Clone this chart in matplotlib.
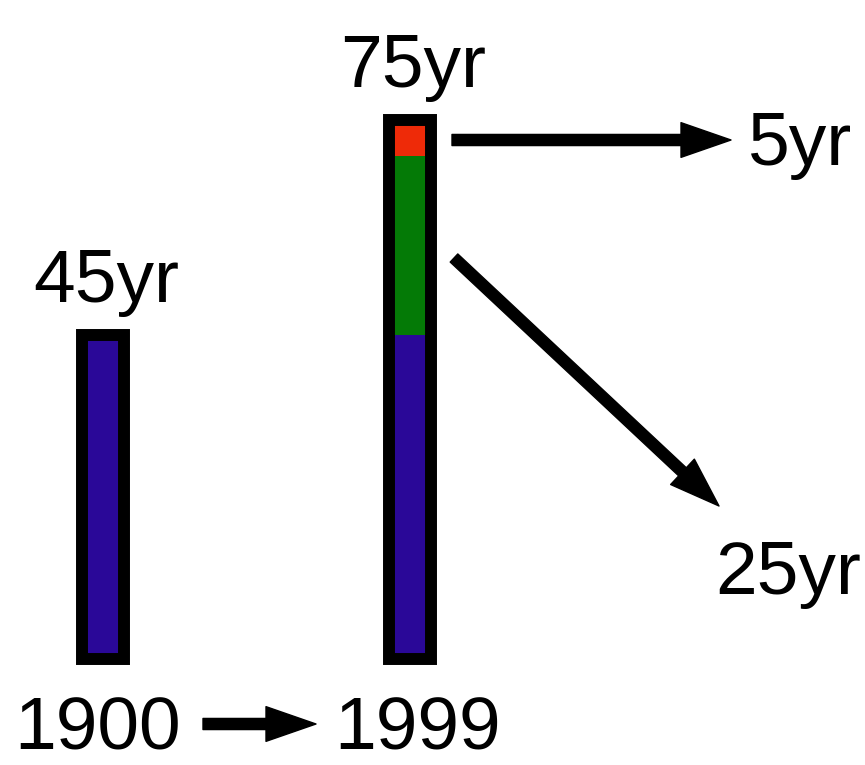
import matplotlib
matplotlib.use("Agg")
import matplotlib.pyplot as plt
from matplotlib.patches import FancyArrowPatch

# ---- data ----
years = ["1900", "1999"]
lifespan_1900 = [45]
segments_1999 = [45, 25, 5]          # blue (base), green, red (top)
segment_colors = ["#2a0898", "#047a06", "#ee2a08"]
top_labels = ["45yr", "75yr"]
side_labels = ["5yr", "25yr"]

W, H = 865, 765
fig = plt.figure(figsize=(W / 100, H / 100), dpi=100)
ax = fig.add_axes([0, 0, 1, 1])
ax.set_axis_off()

# scales: x category 0 -> 103 px, 1 -> 410 px ; y: 0 yr -> 659 px from top, 7.19 px/yr
px_per_unit = 307.0
x0_px = 103.0
ax.set_xlim(-x0_px / px_per_unit, (W - x0_px) / px_per_unit)
ppy = 7.19
base_px = 659.0
ax.set_ylim(-(H - base_px) / ppy, base_px / ppy)

bw = 0.14
edge_lw = 8.6

# bar 1900
ax.bar([0], lifespan_1900, width=bw, color=segment_colors[0], edgecolor="none", zorder=2)
ax.bar([0], lifespan_1900, width=bw, fill=False, edgecolor="black", linewidth=edge_lw,
       joinstyle="miter", zorder=3)

# stacked bar 1999
bottom = 0
for v, c in zip(segments_1999, segment_colors):
    ax.bar([1], [v], bottom=bottom, width=bw, color=c, edgecolor="none", zorder=2)
    bottom += v
ax.bar([1], [bottom], width=bw, fill=False, edgecolor="black", linewidth=edge_lw,
       joinstyle="miter", zorder=3)

font = dict(family=["Liberation Sans", "DejaVu Sans"], fontsize=54, color="black")

# top labels
totals = [lifespan_1900[0], sum(segments_1999)]
for i, (t, lab) in enumerate(zip(totals, top_labels)):
    ax.annotate(lab, xy=(i, t), xytext=(3, 33), textcoords="offset pixels",
                ha="center", va="baseline", **font)

# year labels
fig.text(98 / W, 1 - 750 / H, years[0], ha="center", va="baseline", **font)
fig.text(418 / W, 1 - 750 / H, years[1], ha="center", va="baseline", **font)

# side labels
fig.text(800 / W, 1 - 165 / H, side_labels[0], ha="center", va="baseline", **font)
fig.text(788 / W, 1 - 594 / H, side_labels[1], ha="center", va="baseline", **font)


def arrow(x1, y1, x2, y2):
    p = FancyArrowPatch((x1, H - y1), (x2, H - y2), transform=None,
                        arrowstyle="simple,head_length=0.72,head_width=0.5,tail_width=0.16",
                        mutation_scale=50, color="black", shrinkA=0, shrinkB=0, zorder=4)
    fig.patches.append(p)


arrow(452, 140, 731, 140)
arrow(454, 258, 719, 506)
arrow(203, 724, 316, 724)

fig.savefig("out.png", dpi=100, facecolor="white")
